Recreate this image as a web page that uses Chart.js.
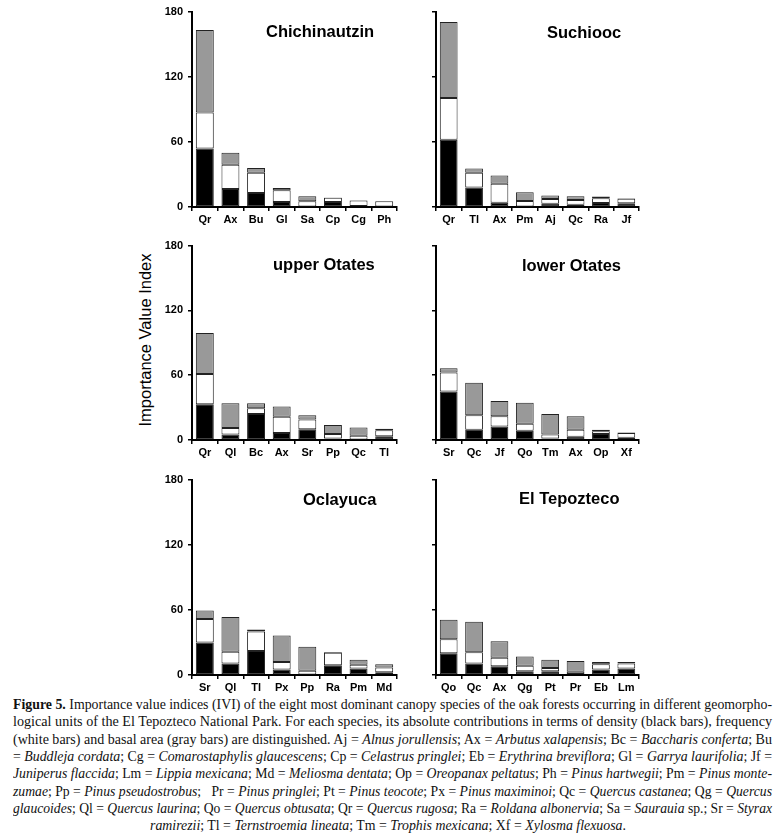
<!DOCTYPE html>
<html><head><meta charset="utf-8">
<script src="https://cdn.jsdelivr.net/npm/chart.js@4"></script>
<style>
body{margin:0;background:#fff;width:776px;height:837px;position:relative;overflow:hidden;font-family:'Liberation Sans',Arial,sans-serif}
canvas{position:absolute}
.title{position:absolute;font:bold 16.5px 'Liberation Sans',Arial,sans-serif;color:#000;white-space:nowrap;line-height:16px}
.ylab{position:absolute;font:16.5px 'Liberation Sans',Arial,sans-serif;color:#000;white-space:nowrap;line-height:16px;transform:translate(-50%,-50%) rotate(-90deg);left:145px;top:340px}
.cap{position:absolute;font:15px 'Liberation Serif','Times New Roman',serif;color:#111;white-space:nowrap;line-height:18px;transform-origin:0 50%}
</style>
</head><body>
<div class="ylab">Importance Value Index</div>
<script>
// ---- data (IVI components per species) ----
const chichCats = ['Qr','Ax','Bu','Gl','Sa','Cp','Cg','Ph'];
const chichDensity = [54,16.5,13,4.5,0.5,4.5,1,0.5];
const chichFrequency = [33,22.5,18.5,11,4.7,4,5,4.8];
const chichBasal = [76,11,4.5,2,4.8,0.3,0.3,0];

const suchCats = ['Qr','Tl','Ax','Pm','Aj','Qc','Ra','Jf'];
const suchDensity = [62,18,4,0.5,3,2,3.7,3.5];
const suchFrequency = [38.5,13.5,17.5,5,4.3,4.5,4.4,4];
const suchBasal = [70,4,7.5,8,3.3,3.5,1.6,0.5];

const upOtCats = ['Qr','Ql','Bc','Ax','Sr','Pp','Qc','Tl'];
const upOtDensity = [33,5,24,6.5,10,1.5,0.5,3.5];
const upOtFrequency = [28,6,5.5,15,9,4,3.5,5.5];
const upOtBasal = [38,23,4.5,9.5,4,8.5,7.5,1.5];

const lowOtCats = ['Sr','Qc','Jf','Qo','Tm','Ax','Op','Xf'];
const lowOtDensity = [45,9.5,12.5,8.5,1.5,3,5.5,2];
const lowOtFrequency = [17.5,13.5,9.5,6.5,3.5,6.5,2.5,4.5];
const lowOtBasal = [4,30,14,19.5,19,12.5,1.5,0.5];

const oclaCats = ['Sr','Ql','Tl','Px','Pp','Ra','Pm','Md'];
const oclaDensity = [30,10.5,22,5,0.5,9,6,2.5];
const oclaFrequency = [21.5,11,18,7,3.5,11.5,3.5,4.5];
const oclaBasal = [8,32,2,24.5,22,0.8,4.5,3];

const tepoCats = ['Qo','Qc','Ax','Qg','Pt','Pr','Eb','Lm'];
const tepoDensity = [20,10.5,8,3.5,3.5,1,5,6];
const tepoFrequency = [13,10.5,8,5,3,2,5,4.5];
const tepoBasal = [18,28,15,8.5,7.5,10,2,1.5];

const yTicks = [0,60,120,180];

const panels = [
  {name:'Chichinautzin', cats:chichCats, d:chichDensity, f:chichFrequency, b:chichBasal, left:150, top:0, h:225, labels:true, tl:266, tt:23},
  {name:'Suchiooc', cats:suchCats, d:suchDensity, f:suchFrequency, b:suchBasal, left:395, top:0, h:225, labels:false, tl:547, tt:24},
  {name:'upper Otates', cats:upOtCats, d:upOtDensity, f:upOtFrequency, b:upOtBasal, left:150, top:234, h:224, labels:true, tl:273, tt:256},
  {name:'lower Otates', cats:lowOtCats, d:lowOtDensity, f:lowOtFrequency, b:lowOtBasal, left:395, top:234, h:224, labels:false, tl:522, tt:257},
  {name:'Oclayuca', cats:oclaCats, d:oclaDensity, f:oclaFrequency, b:oclaBasal, left:150, top:468, h:225, labels:true, tl:303, tt:491},
  {name:'El Tepozteco', cats:tepoCats, d:tepoDensity, f:tepoFrequency, b:tepoBasal, left:395, top:468, h:225, labels:false, tl:519, tt:490}
];

const FONT = "'Liberation Sans', Arial, sans-serif";
const EDGE = '#222';

panels.forEach(p => {
  const left = p.labels;
  const cv = document.createElement('canvas');
  const w = left ? 250 : 248;
  cv.width = w; cv.height = p.h;
  cv.style.left = p.left + 'px'; cv.style.top = p.top + 'px';
  cv.style.width = w + 'px'; cv.style.height = p.h + 'px';
  document.body.appendChild(cv);
  const yW = left ? 42 : 41;
  const padR = left ? 3 : 4;
  new Chart(cv.getContext('2d'), {
    type: 'bar',
    data: {
      labels: p.cats,
      datasets: [
        {label:'density', data:p.d, backgroundColor:'#000', borderColor:EDGE, borderWidth:1},
        {label:'frequency', data:p.f, backgroundColor:'#fff', borderColor:EDGE, borderWidth:1},
        {label:'basal area', data:p.b, backgroundColor:'#999', borderColor:EDGE, borderWidth:1}
      ]
    },
    options: {
      responsive:false, animation:false, devicePixelRatio:1,
      layout:{padding:{top:10, right:padR, left:0, bottom:0}},
      datasets:{bar:{categoryPercentage:1, barPercentage:0.7, borderSkipped:false}},
      plugins:{legend:{display:false}, tooltip:{enabled:false}},
      scales:{
        x:{stacked:true,
           grid:{display:true, drawOnChartArea:false, drawTicks:true, tickLength:4, color:'#000', lineWidth:1.5, offset:true},
           border:{display:true, color:'#000', width:2},
           ticks:{font:{family:FONT, weight:'bold', size:11}, color:'#000', padding:2, maxRotation:0, autoSkip:false},
           afterFit(s){ s.height = 18; }
        },
        y:{stacked:true, min:0, max:180, afterBuildTicks(s){ s.ticks = yTicks.map(v=>({value:v})); },
           grid:{display:true, drawOnChartArea:false, drawTicks:true, tickLength:4, color:'#000', lineWidth:1.5},
           border:{display:true, color:'#000', width:2},
           ticks:{font:{family:FONT, weight:'bold', size:11}, color: left ? '#000' : 'rgba(0,0,0,0)', padding:5},
           afterFit(s){ s.width = yW; }
        }
      }
    }
  });
  const t = document.createElement('div');
  t.className = 'title'; t.textContent = p.name;
  t.style.left = p.tl + 'px'; t.style.top = p.tt + 'px';
  document.body.appendChild(t);
});

// ---- caption ----
const capLines = [
  '<b>Figure 5.</b> Importance value indices (IVI) of the eight most dominant canopy species of the oak forests occurring in different geomorpho-',
  'logical units of the El Tepozteco National Park. For each species, its absolute contributions in terms of density (black bars), frequency',
  '(white bars) and basal area (gray bars) are distinguished. Aj = <i>Alnus jorullensis</i>; Ax = <i>Arbutus xalapensis</i>; Bc = <i>Baccharis conferta</i>; Bu',
  '= <i>Buddleja cordata</i>; Cg = <i>Comarostaphylis glaucescens</i>; Cp = <i>Celastrus pringlei</i>; Eb = <i>Erythrina breviflora</i>; Gl = <i>Garrya laurifolia</i>; Jf =',
  '<i>Juniperus flaccida</i>; Lm = <i>Lippia mexicana</i>; Md = <i>Meliosma dentata</i>; Op = <i>Oreopanax peltatus</i>; Ph = <i>Pinus hartwegii</i>; Pm = <i>Pinus monte-</i>',
  '<i>zumae</i>; Pp = <i>Pinus pseudostrobus</i>;&nbsp;&nbsp; Pr = <i>Pinus pringlei</i>; Pt = <i>Pinus teocote</i>; Px = <i>Pinus maximinoi</i>; Qc = <i>Quercus castanea</i>; Qg = <i>Quercus</i>',
  '<i>glaucoides</i>; Ql = <i>Quercus laurina</i>; Qo = <i>Quercus obtusata</i>; Qr = <i>Quercus rugosa</i>; Ra = <i>Roldana albonervia</i>; Sa = <i>Saurauia</i> sp.; Sr = <i>Styrax</i>',
  '<i>ramirezii</i>; Tl = <i>Ternstroemia lineata</i>; Tm = <i>Trophis mexicana</i>; Xf = <i>Xylosma flexuosa</i>.'
];
const capLeft = 13, capRight = 772, capTop = 695, capStep = 17.3;
let sumScale = 0;
const els = capLines.map((h,i) => {
  const d = document.createElement('div');
  d.className = 'cap'; d.innerHTML = h;
  d.style.top = (capTop + i*capStep) + 'px';
  d.style.left = capLeft + 'px';
  document.body.appendChild(d);
  return d;
});
els.forEach((d,i) => {
  const w = d.getBoundingClientRect().width;
  if (i < els.length - 1) {
    const s = (capRight - capLeft) / w;
    sumScale += s;
    d.style.transform = 'scaleX(' + s + ')';
  } else {
    const s = sumScale / (els.length - 1);
    const sw = w * s;
    d.style.left = (388 - sw/2) + 'px';
    d.style.transform = 'scaleX(' + s + ')';
  }
});
</script>
</body></html>
